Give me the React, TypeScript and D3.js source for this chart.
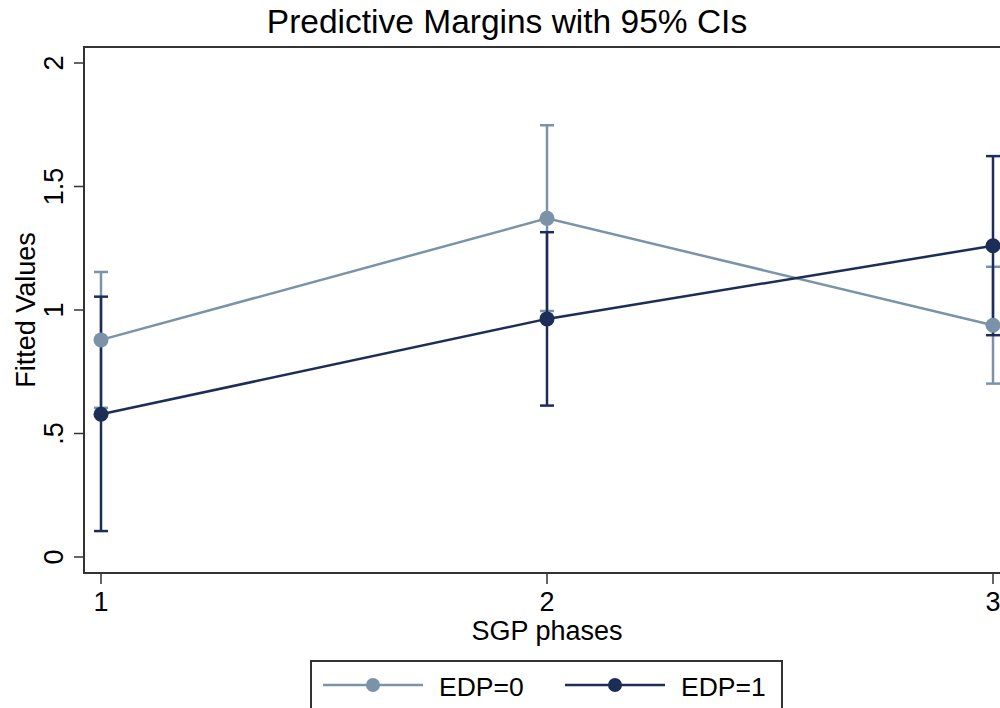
import React from "react";
import * as d3 from "d3";

const phases = [1, 2, 3];
const edp0Mean = [0.879, 1.371, 0.938];
const edp0Low = [0.604, 0.996, 0.702];
const edp0High = [1.154, 1.748, 1.175];
const edp1Mean = [0.578, 0.964, 1.26];
const edp1Low = [0.105, 0.613, 0.898];
const edp1High = [1.054, 1.315, 1.623];
const yTicks = [0, 0.5, 1, 1.5, 2];
const yTickLabels = ["0", ".5", "1", "1.5", "2"];
const xTickLabels = ["1", "2", "3"];
const seriesNames = ["EDP=0", "EDP=1"];
const colors = ["#7b93a8", "#1c2d57"];

const W = 1000;
const H = 708;
const font = "'Liberation Sans', Arial, Helvetica, sans-serif";

export default function App() {
  const x = d3.scaleLinear().domain([1, 3]).range([101, 993]);
  const y = d3.scaleLinear().domain([0, 2]).range([557, 63]);
  const frame = { left: 84, top: 47, bottom: 573, right: 1012 };
  const line = d3
    .line<[number, number]>()
    .x((d) => x(d[0]))
    .y((d) => y(d[1]));

  const series = [
    { mean: edp0Mean, low: edp0Low, high: edp0High, color: colors[0] },
    { mean: edp1Mean, low: edp1Low, high: edp1High, color: colors[1] },
  ];

  const axisColor = "#333";
  const capW = 7;

  return (
    <svg
      width={W}
      height={H}
      style={{ position: "absolute", left: 0, top: 0, background: "#fff" }}
      fontFamily={font}
    >
      <rect x={0} y={0} width={W} height={H} fill="#fff" />
      <text x={507} y={33} textAnchor="middle" fontSize={33.5} fill="#000">
        Predictive Margins with 95% CIs
      </text>
      {/* frame */}
      <rect
        x={frame.left}
        y={frame.top}
        width={frame.right - frame.left}
        height={frame.bottom - frame.top}
        fill="none"
        stroke={axisColor}
        strokeWidth={2}
      />
      {/* y ticks */}
      {yTicks.map((t, i) => (
        <g key={"yt" + i}>
          <line x1={74} x2={frame.left} y1={y(t)} y2={y(t)} stroke={axisColor} strokeWidth={1.5} />
          <text
            transform={`translate(63,${y(t)}) rotate(-90)`}
            textAnchor="middle"
            fontSize={27}
            fill="#000"
          >
            {yTickLabels[i]}
          </text>
        </g>
      ))}
      <text
        transform={`translate(35,${y(1)}) rotate(-90)`}
        textAnchor="middle"
        fontSize={27}
        fill="#000"
      >
        Fitted Values
      </text>
      {/* x ticks */}
      {phases.map((p, i) => (
        <g key={"xt" + i}>
          <line x1={x(p)} x2={x(p)} y1={frame.bottom} y2={584} stroke={axisColor} strokeWidth={1.5} />
          <text x={x(p)} y={611} textAnchor="middle" fontSize={27} fill="#000">
            {xTickLabels[i]}
          </text>
        </g>
      ))}
      <text x={547} y={640} textAnchor="middle" fontSize={27} fill="#000">
        SGP phases
      </text>
      {/* error bars */}
      {series.map((s, si) => (
        <g key={"eb" + si}>
          {phases.map((p, i) => (
            <g key={i} stroke={s.color} strokeWidth={2.5}>
              <line x1={x(p)} x2={x(p)} y1={y(s.low[i])} y2={y(s.high[i])} />
              <line x1={x(p) - capW} x2={x(p) + capW} y1={y(s.low[i])} y2={y(s.low[i])} />
              <line x1={x(p) - capW} x2={x(p) + capW} y1={y(s.high[i])} y2={y(s.high[i])} />
            </g>
          ))}
        </g>
      ))}
      {/* lines and points */}
      {series.map((s, si) => (
        <g key={"ln" + si}>
          <path
            d={line(phases.map((p, i) => [p, s.mean[i]] as [number, number])) || ""}
            fill="none"
            stroke={s.color}
            strokeWidth={2.5}
          />
          {phases.map((p, i) => (
            <circle key={i} cx={x(p)} cy={y(s.mean[i])} r={7.5} fill={s.color} />
          ))}
        </g>
      ))}
      {/* legend */}
      <rect x={311} y={661} width={471} height={60} fill="#fff" stroke={axisColor} strokeWidth={2} />
      {seriesNames.map((n, i) => {
        const lx = 323 + i * 242;
        return (
          <g key={"lg" + i}>
            <line x1={lx} x2={lx + 100} y1={685} y2={685} stroke={colors[i]} strokeWidth={2.5} />
            <circle cx={lx + 50} cy={685} r={7} fill={colors[i]} />
            <text x={lx + 116} y={696} fontSize={26.5} fill="#000">
              {n}
            </text>
          </g>
        );
      })}
    </svg>
  );
}
